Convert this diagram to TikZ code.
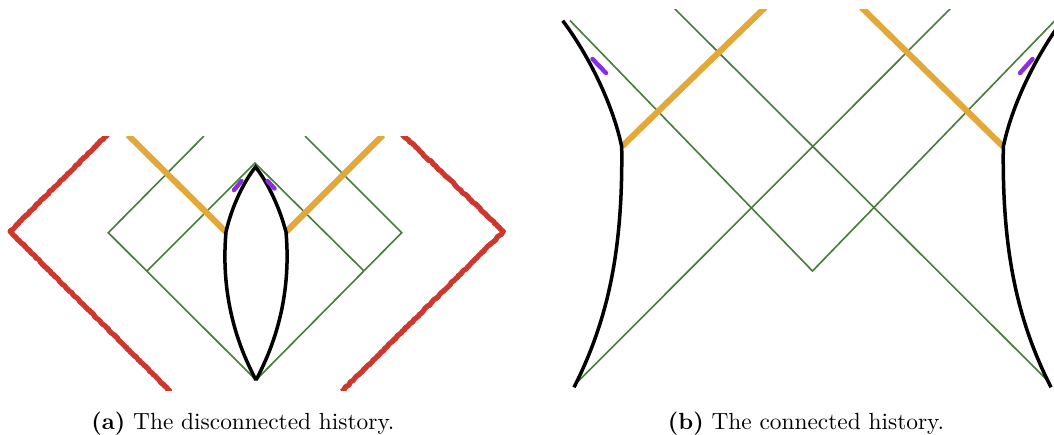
\documentclass[tikz,border=0pt]{standalone}
\usepackage{tikz}
\usepackage{xcolor}
\usetikzlibrary{decorations.pathmorphing}

\definecolor{lcgreen}{RGB}{72,125,60}
\definecolor{braneorange}{RGB}{226,168,58}
\definecolor{bdryred}{RGB}{205,55,45}
\definecolor{tippurple}{RGB}{140,45,225}

\begin{document}
\begin{tikzpicture}[x=0.428pt,y=-0.428pt,
    lc/.style={lcgreen,line width=0.7pt},
    surf/.style={black,line width=1.5pt},
    brane/.style={braneorange,line width=2.6pt},
    tip/.style={tippurple,line width=1.9pt,line cap=round},
    bdry/.style={bdryred,line width=2.2pt,line join=round,decorate,
      decoration={random steps,segment length=0.8pt,amplitude=0.25pt}},
    bdryfuzz/.style={bdryred,line width=0.5pt,opacity=0.5,line join=round,decorate,
      decoration={random steps,segment length=0.7pt,amplitude=1.1pt}}]
  \useasboundingbox (0,0) rectangle (1054,434);

  % (a) disconnected history
  \coordinate (aTop) at (255.5,167);
  \coordinate (aBot) at (256,380);
  \coordinate (aL) at (226,232);
  \coordinate (aR) at (286,232);
  \coordinate (aPeak) at (255,163);
  \begin{scope}
    \clip (0,136.5) rectangle (527,390);
    \draw[bdry] (108,134) -- (10,231.5) -- (171,392);
    \draw[bdry] (402,134) -- (503.5,231.5) -- (341,392);
    \foreach \k in {1,2,3}{
      \draw[bdryfuzz] (108,134) -- (10,231.5) -- (171,392);
      \draw[bdryfuzz] (402,134) -- (503.5,231.5) -- (341,392);
    }
    \draw[lc] (204,136) -- (108.3,232.7) -- (aBot) -- (401.7,232.7) -- (305,136);
    \draw[lc] (147,271) -- (aPeak) -- (364,271);
    \draw[brane] (aL) -- (128,135);
    \draw[brane] (aR) -- (383,135);
    \draw[surf,line join=miter] (aBot) .. controls (240,350) and (220,300) .. (aL)
      .. controls (232,205) and (245,180) .. (aTop)
      .. controls (266,180) and (279,205) .. (aR)
      .. controls (292,300) and (272,350) .. (aBot);
  \end{scope}
  \draw[tip] (234,190) -- (241.5,181);
  \draw[tip] (267.5,181) -- (274.5,188.5);

  % (b) connected history
  \coordinate (bV) at (812.5,271);
  \coordinate (bL) at (621.7,146.7);
  \coordinate (bR) at (1003.3,146.7);
  \begin{scope}
    \clip (540,9.3) rectangle (1054,400);
    \draw[lc] (570,20.5) -- (bV) -- (1055,20.5);
    \draw[lc] (673,7) -- (1050,383);
    \draw[lc] (952,7) -- (576,383.5);
    \draw[brane] (bL) -- (765,7.5);
    \draw[brane] (bR) -- (861.5,7.5);
    \draw[surf] (562.7,20.7) .. controls (585,50) and (612,100) .. (bL)
      .. controls (623,250) and (608,320) .. (574,387.3);
    \draw[surf] (1062.3,20.7) .. controls (1040,50) and (1013,100) .. (bR)
      .. controls (1002,250) and (1017,320) .. (1051,387.3);
  \end{scope}
  \draw[tip] (592.5,59) -- (606,73);
  \draw[tip] (1032.5,59) -- (1020,73);

  % captions
  \node[anchor=base west,inner sep=0pt] (capa) at (91,429) {\textbf{(a)} The disconnected history.};
  \node[anchor=base west,inner sep=0pt] (capb) at (667.5,429) {\textbf{(b)} The connected history.};
\end{tikzpicture}
\end{document}
